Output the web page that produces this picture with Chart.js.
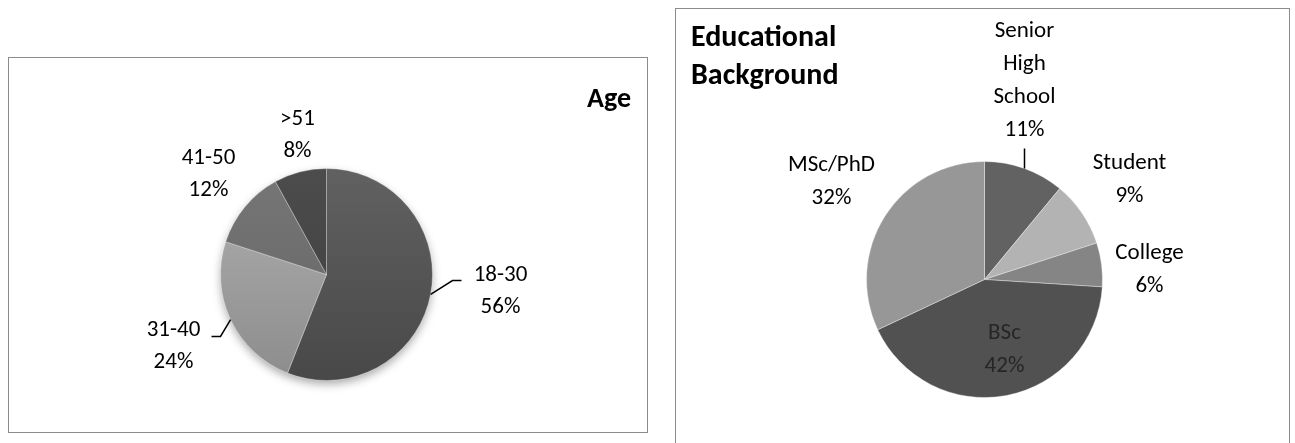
<!DOCTYPE html>
<html>
<head>
<meta charset="utf-8">
<script src="https://cdn.jsdelivr.net/npm/chart.js@4.4.1/dist/chart.umd.min.js"></script>
<style>
  html, body { margin: 0; padding: 0; background: #fff; width: 1295px; height: 443px; overflow: hidden; position: relative; }
  .box { position: absolute; border: 1px solid #8c8c8c; box-sizing: border-box; background: #fff; }
  #ageBox { left: 8px; top: 57px; width: 640px; height: 376px; }
  #eduBox { left: 675px; top: 8px; width: 615px; height: 440px; }
  canvas { position: absolute; left: 0; top: 0; }
</style>
</head>
<body>
<div class="box" id="ageBox"><canvas id="ageChart" width="638" height="374"></canvas></div>
<div class="box" id="eduBox"><canvas id="eduChart" width="613" height="438"></canvas></div>
<script>
// Age groups (share of respondents, %)
const ageCategories = ['18-30', '31-40', '41-50', '>51'];
const ageValues = [56, 24, 12, 8];

// Educational background (share of respondents, %)
const eduCategories = ['Senior High School', 'Student', 'College', 'BSc', 'MSc/PhD'];
const eduValues = [11, 9, 6, 42, 32];

const FONT = "Carlito, Calibri, Lato, 'Open Sans', sans-serif";

// Draws the pie shadow, the slice labels with their leader lines and the chart heading.
const sliceLabels = {
  id: 'sliceLabels',
  beforeDatasetsDraw(chart, args, opts) {
    if (!opts.shadow) return;
    const el = chart.getDatasetMeta(0).data[0];
    const { x, y, outerRadius } = el.getProps(['x', 'y', 'outerRadius'], true);
    const ctx = chart.ctx;
    ctx.save();
    ctx.shadowColor = opts.shadow.color;
    ctx.shadowBlur = opts.shadow.blur;
    ctx.shadowOffsetX = opts.shadow.x;
    ctx.shadowOffsetY = opts.shadow.y;
    ctx.fillStyle = '#666';
    ctx.beginPath();
    ctx.arc(x, y, outerRadius - 0.5, 0, Math.PI * 2);
    ctx.fill();
    ctx.restore();
  },
  afterDatasetsDraw(chart, args, opts) {
    const ctx = chart.ctx;
    const meta = chart.getDatasetMeta(0);
    const labels = chart.data.labels;
    const values = chart.data.datasets[0].data;
    ctx.save();
    ctx.textAlign = 'center';
    ctx.textBaseline = 'middle';
    ctx.font = opts.font;
    meta.data.forEach((el, i) => {
      const p = el.getProps(['x', 'y', 'startAngle', 'endAngle', 'outerRadius'], true);
      const mid = (p.startAngle + p.endAngle) / 2;
      const lines = (opts.wrap[i] || [labels[i]]).concat([values[i] + '%']);
      const off = opts.offsets[i];
      const cx = p.x + off[0];
      const cy = p.y + off[1];
      ctx.fillStyle = (opts.colors && opts.colors[i]) || '#000';
      lines.forEach((t, k) => {
        ctx.fillText(t, cx, cy + (k - (lines.length - 1) / 2) * opts.lineHeight);
      });
      const leader = opts.leaders[i];
      if (leader) {
        ctx.strokeStyle = '#000';
        ctx.lineWidth = 1.5;
        ctx.beginPath();
        ctx.moveTo(p.x + Math.cos(mid) * p.outerRadius, p.y + Math.sin(mid) * p.outerRadius);
        leader.forEach(q => ctx.lineTo(p.x + q[0], p.y + q[1]));
        ctx.stroke();
      }
    });
    const t = opts.title;
    ctx.font = t.font;
    ctx.fillStyle = '#000';
    ctx.textAlign = t.align;
    t.lines.forEach((s, k) => ctx.fillText(s, t.x, t.y + k * t.lineHeight));
    ctx.restore();
  }
};

// Vertical shading for the age pie
const ageTop = ['#616161', '#b0b0b0', '#767676', '#4c4c4c'];
const ageBottom = ['#484848', '#8c8c8c', '#646464', '#3e3e3e'];
function ageFill(ctx) {
  const area = ctx.chart.chartArea;
  const i = ctx.dataIndex;
  if (!area) return ageTop[i];
  const g = ctx.chart.ctx.createLinearGradient(0, area.top, 0, area.bottom);
  g.addColorStop(0, ageTop[i]);
  g.addColorStop(1, ageBottom[i]);
  return g;
}

new Chart(document.getElementById('ageChart'), {
  type: 'pie',
  data: {
    labels: ageCategories,
    datasets: [{
      data: ageValues,
      backgroundColor: ageFill,
      borderColor: 'rgba(255,255,255,0.35)',
      borderWidth: 1
    }]
  },
  options: {
    responsive: false,
    animation: false,
    layout: { padding: { left: 211, right: 214, top: 110, bottom: 51 } },
    plugins: {
      legend: { display: false },
      tooltip: { enabled: false },
      sliceLabels: {
        font: '23px ' + FONT,
        lineHeight: 32,
        wrap: [],
        offsets: [[174, 17], [-153, 72], [-118, -100], [-29, -139]],
        leaders: [[[126, 6], [135, 6]], [[-106, 62], [-115, 62]], null, null],
        shadow: { color: 'rgba(0,0,0,0.35)', blur: 10, x: 0, y: 4 },
        title: { lines: ['Age'], x: 622, y: 42, align: 'right', lineHeight: 38, font: 'bold 28px ' + FONT }
      }
    }
  },
  plugins: [sliceLabels]
});

new Chart(document.getElementById('eduChart'), {
  type: 'pie',
  data: {
    labels: eduCategories,
    datasets: [{
      data: eduValues,
      backgroundColor: ['#626262', '#b3b3b3', '#858585', '#515151', '#979797'],
      borderColor: 'rgba(255,255,255,0.35)',
      borderWidth: 1
    }]
  },
  options: {
    responsive: false,
    animation: false,
    layout: { padding: { left: 190, right: 186, top: 152, bottom: 49 } },
    plugins: {
      legend: { display: false },
      tooltip: { enabled: false },
      sliceLabels: {
        font: '23px ' + FONT,
        lineHeight: 33,
        wrap: [['Senior', 'High', 'School']],
        colors: [null, null, null, '#262626', null],
        offsets: [[40, -199], [145, -100], [165, -10], [20, 70], [-153, -98]],
        leaders: [[[40, -131]], null, null, null, null],
        title: { lines: ['Educational', 'Background'], x: 15, y: 29, align: 'left', lineHeight: 38, font: 'bold 30px ' + FONT }
      }
    }
  },
  plugins: [sliceLabels]
});
</script>
</body>
</html>
